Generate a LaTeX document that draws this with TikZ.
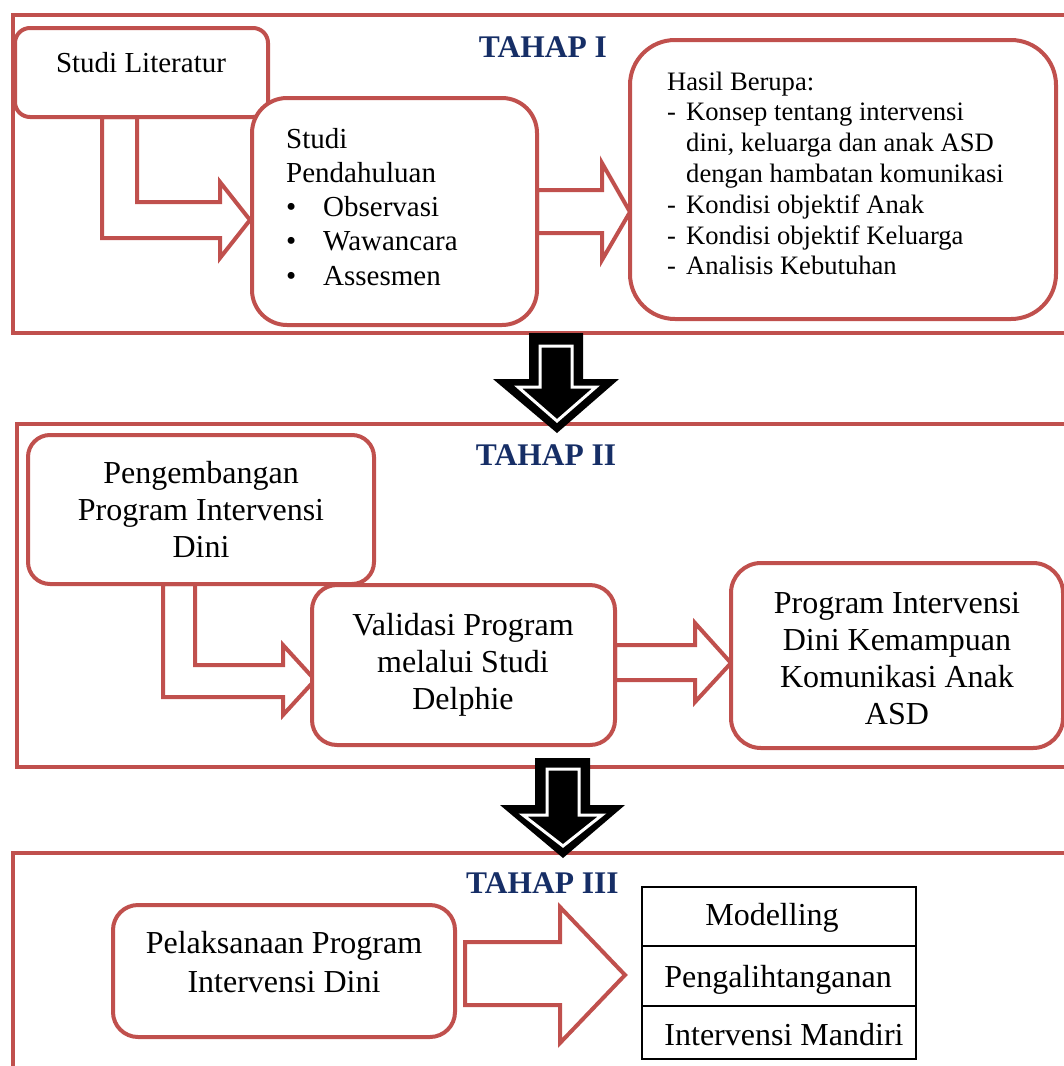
\documentclass[tikz,border=0pt]{standalone}
\usepackage{fontspec}
\setmainfont{Liberation Serif}
\definecolor{fr}{HTML}{C0504D}
\definecolor{navy}{RGB}{22,46,102}
\tikzset{
  frame/.style={draw=fr, line width=4pt},
  rbox/.style={draw=fr, line width=4pt, fill=white, rectangle, inner sep=0pt},
  barrow/.style={draw=fr, line width=4pt, fill=white, line join=miter},
  karrow/.style={fill=black},
  kinner/.style={draw=white, line width=3pt, line join=miter},
  title/.style={text=navy, font=\fontsize{31.5}{36}\selectfont\bfseries, anchor=base, inner sep=0pt},
  tA/.style={font=\fontsize{29}{34.3}\selectfont, inner sep=0pt},
  tH/.style={font=\fontsize{26.6}{30.8}\selectfont, inner sep=0pt},
  tB/.style={font=\fontsize{32}{37}\selectfont, inner sep=0pt},
  tC/.style={font=\fontsize{32}{39}\selectfont, inner sep=0pt},
  cell/.style={draw=black, line width=1.2pt, rectangle, minimum width=274pt, inner sep=0pt},
}
\begin{document}
\begin{tikzpicture}[x=1pt,y=-1pt]
\useasboundingbox (0,0) rectangle (1064,1066);
\clip (0,0) rectangle (1064,1066);
% stage frames
\draw[frame] (13,15) rectangle (1075,333);
\draw[frame] (17,424) rectangle (1075,767);
\draw[frame] (13,853) rectangle (1075,1075);
% black down arrows between stages
\fill[karrow] (529,333) -- (583,333) -- (583,379) -- (619,379) -- (557,433) -- (493,379) -- (529,379) -- cycle;
\draw[kinner] (540,346) -- (572,346) -- (572,387) -- (596,387) -- (557,421) -- (518,387) -- (540,387) -- cycle;
\fill[karrow] (535,758) -- (590,758) -- (590,805) -- (625,805) -- (563,858) -- (500,805) -- (535,805) -- cycle;
\draw[kinner] (547,769) -- (579,769) -- (579,815) -- (602,815) -- (563,846) -- (523,815) -- (547,815) -- cycle;
% red block arrows
\draw[barrow] (102,117) -- (102,238) -- (220,238) -- (220,258) -- (250,220) -- (220,182) -- (220,202) -- (137,202) -- (137,117) -- cycle;
\draw[barrow] (537,190) -- (602,190) -- (602,163) -- (630,212) -- (602,260) -- (602,233) -- (537,233) -- cycle;
\draw[barrow] (163,584) -- (163,697) -- (283,697) -- (283,715) -- (315,680) -- (283,645) -- (283,665) -- (195,665) -- (195,584) -- cycle;
\draw[barrow] (615,645) -- (695,645) -- (695,623) -- (731,663) -- (695,702) -- (695,680) -- (615,680) -- cycle;
\draw[barrow] (465,942) -- (560,942) -- (560,907) -- (625,975) -- (560,1043) -- (560,1005) -- (465,1005) -- cycle;
% boxes
\node[rbox, rounded corners=15pt, minimum width=253pt, minimum height=89pt] (lit) at (141.5,72.5) {};
\node[rbox, rounded corners=35pt, minimum width=285pt, minimum height=227pt] (pend) at (394.5,211.5) {};
\node[rbox, rounded corners=45pt, minimum width=426pt, minimum height=279pt] (hasil) at (843,179.5) {};
\node[rbox, rounded corners=22pt, minimum width=346pt, minimum height=149pt] (peng) at (201,509.5) {};
\node[rbox, rounded corners=25pt, minimum width=303pt, minimum height=160pt] (valid) at (463.5,665) {};
\node[rbox, rounded corners=30pt, minimum width=332pt, minimum height=185pt] (prog) at (897,655.5) {};
\node[rbox, rounded corners=25pt, minimum width=342pt, minimum height=132pt] (pel) at (284,971) {};
\node[cell, minimum height=59pt] (c1) at (779,916.5) {};
\node[cell, minimum height=60pt] (c2) at (779,976) {};
\node[cell, minimum height=53pt] (c3) at (779,1032.5) {};
% titles
\node[title] (t1) at (543,57) {TAHAP I};
\node[title] (t2) at (546,465) {TAHAP II};
\node[title] (t3) at (542.5,893) {TAHAP III};
% texts (multi-line nodes: base anchor = last line's baseline)
\node[tA, anchor=base] (litT) at (141,72) {Studi Literatur};
\node[tA, anchor=base west, align=left] (pendT) at (286,285.2) {Studi\\Pendahuluan\\\makebox[37pt][l]{•}Observasi\\\makebox[37pt][l]{•}Wawancara\\\makebox[37pt][l]{•}Assesmen};
\node[tH, anchor=base west, align=left] (hasilT) at (667,274.8) {Hasil Berupa:\\\makebox[19pt][l]{-}Konsep tentang intervensi\\\hspace*{19pt}dini, keluarga dan anak ASD\\\hspace*{19pt}dengan hambatan komunikasi\\\makebox[19pt][l]{-}Kondisi objektif Anak\\\makebox[19pt][l]{-}Kondisi objektif Keluarga\\\makebox[19pt][l]{-}Analisis Kebutuhan};
\node[tB, anchor=base, align=center] (pengT) at (201,557) {Pengembangan\\Program Intervensi\\Dini};
\node[tB, anchor=base, align=center] (validT) at (463,709) {Validasi Program\\melalui Studi\\Delphie};
\node[tB, anchor=base, align=center] (progT) at (897,724) {Program Intervensi\\Dini Kemampuan\\Komunikasi Anak\\ASD};
\node[tC, anchor=base, align=center] (pelT) at (284,992) {Pelaksanaan Program\\Intervensi Dini};
\node[tB, anchor=base] (m1) at (772,925) {Modelling};
\node[tB, anchor=base] (m2) at (778,987) {Pengalihtanganan};
\node[tB, anchor=base] (m3) at (784,1045) {Intervensi Mandiri};
\end{tikzpicture}
\end{document}
